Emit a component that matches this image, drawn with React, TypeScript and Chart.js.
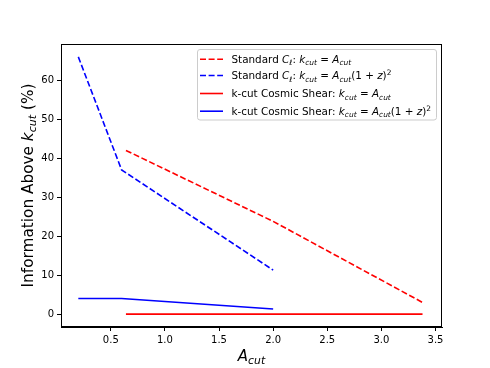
import React, { useEffect, useRef } from "react";
import { Chart, registerables } from "chart.js";

Chart.register(...registerables);

// ---- data ----
const stdAx = [0.64, 2.0, 3.38];
const stdAy = [42.0, 23.8, 3.0];
const stdBx = [0.2, 0.6, 2.0];
const stdBy = [66.0, 37.0, 11.3];
const kcutAx = [0.64, 2.0, 3.38];
const kcutAy = [0.0, 0.0, 0.0];
const kcutBx = [0.2, 0.6, 2.0];
const kcutBy = [4.0, 4.0, 1.3];

const xTickValues = [0.5, 1.0, 1.5, 2.0, 2.5, 3.0, 3.5];
const xTickLabels = ["0.5", "1.0", "1.5", "2.0", "2.5", "3.0", "3.5"];
const yTickValues = [0, 10, 20, 30, 40, 50, 60];
const yTickLabels = ["0", "10", "20", "30", "40", "50", "60"];

type Seg = { t: string; i?: boolean; p?: "sub" | "sup" };

const FONT = '"DejaVu Sans"';

const legendItems: { color: string; dash: boolean; segs: Seg[] }[] = [
  {
    color: "#ff0000",
    dash: true,
    segs: [
      { t: "Standard " },
      { t: "C", i: true },
      { t: "ℓ", i: true, p: "sub" },
      { t: ": " },
      { t: "k", i: true },
      { t: "cut", i: true, p: "sub" },
      { t: " = " },
      { t: "A", i: true },
      { t: "cut", i: true, p: "sub" },
    ],
  },
  {
    color: "#0000ff",
    dash: true,
    segs: [
      { t: "Standard " },
      { t: "C", i: true },
      { t: "ℓ", i: true, p: "sub" },
      { t: ": " },
      { t: "k", i: true },
      { t: "cut", i: true, p: "sub" },
      { t: " = " },
      { t: "A", i: true },
      { t: "cut", i: true, p: "sub" },
      { t: "(1 + " },
      { t: "z", i: true },
      { t: ")" },
      { t: "2", p: "sup" },
    ],
  },
  {
    color: "#ff0000",
    dash: false,
    segs: [
      { t: "k-cut Cosmic Shear: " },
      { t: "k", i: true },
      { t: "cut", i: true, p: "sub" },
      { t: " = " },
      { t: "A", i: true },
      { t: "cut", i: true, p: "sub" },
    ],
  },
  {
    color: "#0000ff",
    dash: false,
    segs: [
      { t: "k-cut Cosmic Shear: " },
      { t: "k", i: true },
      { t: "cut", i: true, p: "sub" },
      { t: " = " },
      { t: "A", i: true },
      { t: "cut", i: true, p: "sub" },
      { t: "(1 + " },
      { t: "z", i: true },
      { t: ")" },
      { t: "2", p: "sup" },
    ],
  },
];

function segFont(s: Seg, size: number) {
  const sz = s.p ? size * 0.72 : size;
  return `${s.i ? "italic " : ""}${sz}px ${FONT}`;
}

function richWidth(ctx: CanvasRenderingContext2D, segs: Seg[], size: number) {
  let w = 0;
  for (const s of segs) {
    ctx.font = segFont(s, size);
    w += ctx.measureText(s.t).width;
  }
  return w;
}

function drawRich(
  ctx: CanvasRenderingContext2D,
  segs: Seg[],
  x: number,
  y: number,
  size: number
) {
  let cx = x;
  ctx.textAlign = "left";
  ctx.textBaseline = "alphabetic";
  ctx.fillStyle = "#000";
  for (const s of segs) {
    ctx.font = segFont(s, size);
    const dy = s.p === "sub" ? size * 0.22 : s.p === "sup" ? -size * 0.42 : 0;
    ctx.fillText(s.t, cx, y + dy);
    cx += ctx.measureText(s.t).width;
  }
}

const toPts = (xs: number[], ys: number[]) => xs.map((x, i) => ({ x, y: ys[i] }));

const decorPlugin = {
  id: "decor",
  afterDraw(chart: any) {
    const ctx: CanvasRenderingContext2D = chart.ctx;
    const a = chart.chartArea;
    ctx.save();
    // frame
    ctx.strokeStyle = "#000";
    ctx.lineWidth = 1;
    ctx.strokeRect(a.left + 0.5, a.top + 0.5, a.right - a.left - 1, a.bottom - a.top - 1);

    // x title
    const xt: Seg[] = [{ t: "A", i: true }, { t: "cut", i: true, p: "sub" }];
    const xs = 15;
    const xw = richWidth(ctx, xt, xs);
    drawRich(ctx, xt, (a.left + a.right) / 2 - xw / 2, 361, xs);

    // y title
    const yt: Seg[] = [
      { t: "Information Above " },
      { t: "k", i: true },
      { t: "cut", i: true, p: "sub" },
      { t: " (%)" },
    ];
    const ys = 15.3;
    const yw = richWidth(ctx, yt, ys);
    ctx.save();
    ctx.translate(33, (a.top + a.bottom) / 2);
    ctx.rotate(-Math.PI / 2);
    drawRich(ctx, yt, -yw / 2, 0, ys);
    ctx.restore();

    // legend
    const lx = 197.5, ly = 49.5, lw = 239, lh = 70.5;
    ctx.fillStyle = "rgba(255,255,255,0.85)";
    ctx.strokeStyle = "#cccccc";
    ctx.lineWidth = 1;
    ctx.beginPath();
    (ctx as any).roundRect(lx, ly, lw, lh, 2.5);
    ctx.fill();
    ctx.stroke();
    const baselines = [63, 79.3, 97.3, 115];
    const ls = 10.4;
    legendItems.forEach((it, i) => {
      const b = baselines[i];
      const cy = b - 3.8;
      ctx.strokeStyle = it.color;
      ctx.lineWidth = 1.6;
      ctx.setLineDash(it.dash ? [6, 2.6] : []);
      ctx.beginPath();
      ctx.moveTo(200, cy);
      ctx.lineTo(223, cy);
      ctx.stroke();
      ctx.setLineDash([]);
      drawRich(ctx, it.segs, 231.5, b, ls);
    });
    ctx.restore();
  },
};

export default function App() {
  const ref = useRef<HTMLCanvasElement>(null);
  useEffect(() => {
    if (!ref.current) return;
    const mk = (label: string, xs: number[], ys: number[], color: string, dash: boolean) => ({
      label,
      data: toPts(xs, ys),
      borderColor: color,
      backgroundColor: color,
      borderWidth: 1.6,
      borderDash: dash ? [6, 2.6] : [],
      pointRadius: 0,
      tension: 0,
      fill: false,
    });
    const chart = new Chart(ref.current, {
      type: "line",
      data: {
        datasets: [
          mk("Standard A", stdAx, stdAy, "#ff0000", true),
          mk("Standard B", stdBx, stdBy, "#0000ff", true),
          mk("kcut A", kcutAx, kcutAy, "#ff0000", false),
          mk("kcut B", kcutBx, kcutBy, "#0000ff", false),
        ],
      },
      options: {
        animation: false,
        responsive: false,
        maintainAspectRatio: false,
        devicePixelRatio: 1,
        layout: { padding: { left: 0, right: 48, top: 44, bottom: 0 } },
        plugins: { legend: { display: false }, title: { display: false }, tooltip: { enabled: false } },
        scales: {
          x: {
            type: "linear",
            min: 0.04,
            max: 3.56,
            grid: { drawOnChartArea: false, drawTicks: true, tickLength: 4, color: "#000", lineWidth: 1 },
            border: { display: true, color: "#000", width: 1 },
            ticks: {
              color: "#000",
              font: { family: "DejaVu Sans", size: 10 },
              padding: 3,
              maxRotation: 0,
              callback: (v: any) => {
                const i = xTickValues.indexOf(Number(v));
                return i >= 0 ? xTickLabels[i] : "";
              },
            },
            afterBuildTicks: (s: any) => {
              s.ticks = xTickValues.map((v) => ({ value: v }));
            },
            afterFit: (s: any) => {
              s.height = 41;
            },
          },
          y: {
            type: "linear",
            min: -3.3,
            max: 69.3,
            grid: { drawOnChartArea: false, drawTicks: true, tickLength: 4, color: "#000", lineWidth: 1 },
            border: { display: true, color: "#000", width: 1 },
            ticks: {
              color: "#000",
              font: { family: "DejaVu Sans", size: 10 },
              padding: 3,
              callback: (v: any) => {
                const i = yTickValues.indexOf(Number(v));
                return i >= 0 ? yTickLabels[i] : "";
              },
            },
            afterBuildTicks: (s: any) => {
              s.ticks = yTickValues.map((v) => ({ value: v }));
            },
            afterFit: (s: any) => {
              s.width = 61;
            },
          },
        },
      },
      plugins: [decorPlugin],
    } as any);
    return () => chart.destroy();
  }, []);
  return (
    <div style={{ position: "fixed", left: 0, top: 0, width: 490, height: 368, background: "#fff" }}>
      <canvas ref={ref} width={490} height={368} style={{ width: 490, height: 368, display: "block" }} />
    </div>
  );
}
